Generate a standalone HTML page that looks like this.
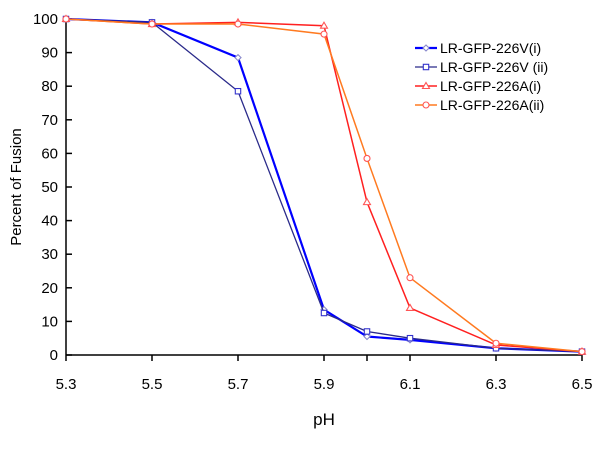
<!DOCTYPE html>
<html><head><meta charset="utf-8"><style>
body{margin:0;background:#fff;}
svg{display:block;font-family:"Liberation Sans",Arial,sans-serif;}
</style></head><body>
<svg id="chart" width="600" height="449"></svg>
<script>
const categories=[5.3,5.5,5.7,5.9,6.0,6.1,6.3,6.5];
const v226Vi=[100,99,88.5,13.5,5.5,4.5,2,1];
const v226Vii=[100,99,78.5,12.5,7,5,2,1];
const v226Ai=[100,98.5,99,98,45.5,14,3,1];
const v226Aii=[100,98.5,98.5,95.5,58.5,23,3.5,1];
const xTicks=[5.3,5.5,5.7,5.9,6.1,6.3,6.5];
const yTicks=[0,10,20,30,40,50,60,70,80,90,100];
const seriesNames=["LR-GFP-226V(i)","LR-GFP-226V (ii)","LR-GFP-226A(i)","LR-GFP-226A(ii)"];
const NS="http://www.w3.org/2000/svg";
const svg=document.getElementById('chart');
const X=v=>66+(v-5.3)/1.2*516;
const Y=v=>355-v*3.36;
function mk(t,a,p){const e=document.createElementNS(NS,t);for(const k in a)e.setAttribute(k,a[k]);(p||svg).appendChild(e);return e;}
let ax=mk('line',{x1:66,y1:Y(0),x2:582,y2:Y(0),stroke:'#000','stroke-width':1.5});


let ay=mk('line',{x1:66,y1:Y(0),x2:66,y2:Y(100),stroke:'#000','stroke-width':1.5});


xTicks.forEach(t=>{
 mk('line',{x1:X(t),y1:Y(0),x2:X(t),y2:Y(0)+6,stroke:'#000','stroke-width':1.5});
 const tx=mk('text',{x:X(t),y:389,'text-anchor':'middle','font-size':15});tx.textContent=t.toFixed(1);
 
 
});
mk('line',{x1:X(6.0),y1:Y(0),x2:X(6.0),y2:Y(0)+6,stroke:'#000','stroke-width':1.5});
yTicks.forEach(t=>{
 mk('line',{x1:66,y1:Y(t),x2:72,y2:Y(t),stroke:'#000','stroke-width':1.5});
 const tx=mk('text',{x:58,y:Y(t)+5,'text-anchor':'end','font-size':15});tx.textContent=t;
 
 
});
let xt=mk('text',{x:324,y:425,'text-anchor':'middle','font-size':17});xt.textContent='pH';


let yt=mk('text',{x:21,y:187,'text-anchor':'middle','font-size':15,transform:'rotate(-90 21 187)'});yt.textContent='Percent of Fusion';


const series=[
 {d:v226Vi,c:'#0000ff',w:2.2,m:'diamond',mc:'#8888cc'},
 {d:v226Vii,c:'#2a2a8a',w:1.3,m:'square',mc:'#3333cc'},
 {d:v226Ai,c:'#ff2020',w:1.5,m:'triangle',mc:'#ff5555'},
 {d:v226Aii,c:'#ff7a20',w:1.5,m:'circle',mc:'#ff5555'}];
function marker(m,x,y,col,g){
 let e;
 if(m=='square')e=mk('rect',{x:x-2.7,y:y-2.7,width:5.4,height:5.4,fill:'#fff',stroke:col,'stroke-width':1.1},g);
 else if(m=='circle')e=mk('circle',{cx:x,cy:y,r:3,fill:'#fff',stroke:col,'stroke-width':1.1},g);
 else if(m=='triangle')e=mk('polygon',{points:`${x},${y-3.5} ${x+3.5},${y+2.5} ${x-3.5},${y+2.5}`,fill:'#fff',stroke:col,'stroke-width':1.1},g);
 else e=mk('polygon',{points:`${x},${y-3} ${x+3},${y} ${x},${y+3} ${x-3},${y}`,fill:'#fff',stroke:col,'stroke-width':1.1},g);
 
 
}
series.forEach((s,i)=>{
 const g=mk('g',{});
 
 
 mk('polyline',{points:s.d.map((v,j)=>X(categories[j])+','+Y(v)).join(' '),fill:'none',stroke:s.c,'stroke-width':s.w},g);
 s.d.forEach((v,j)=>marker(s.m,X(categories[j]),Y(v),s.mc,g));
 const ly=48+i*19;
 const lg=mk('g',{});
 
 
 mk('line',{x1:415,y1:ly,x2:437,y2:ly,stroke:s.c,'stroke-width':s.w},lg);
 marker(s.m,426,ly,s.mc,lg);
 const t=mk('text',{x:440,y:ly+5,'font-size':14},lg);t.textContent=seriesNames[i];
});
</script>
</body></html>
